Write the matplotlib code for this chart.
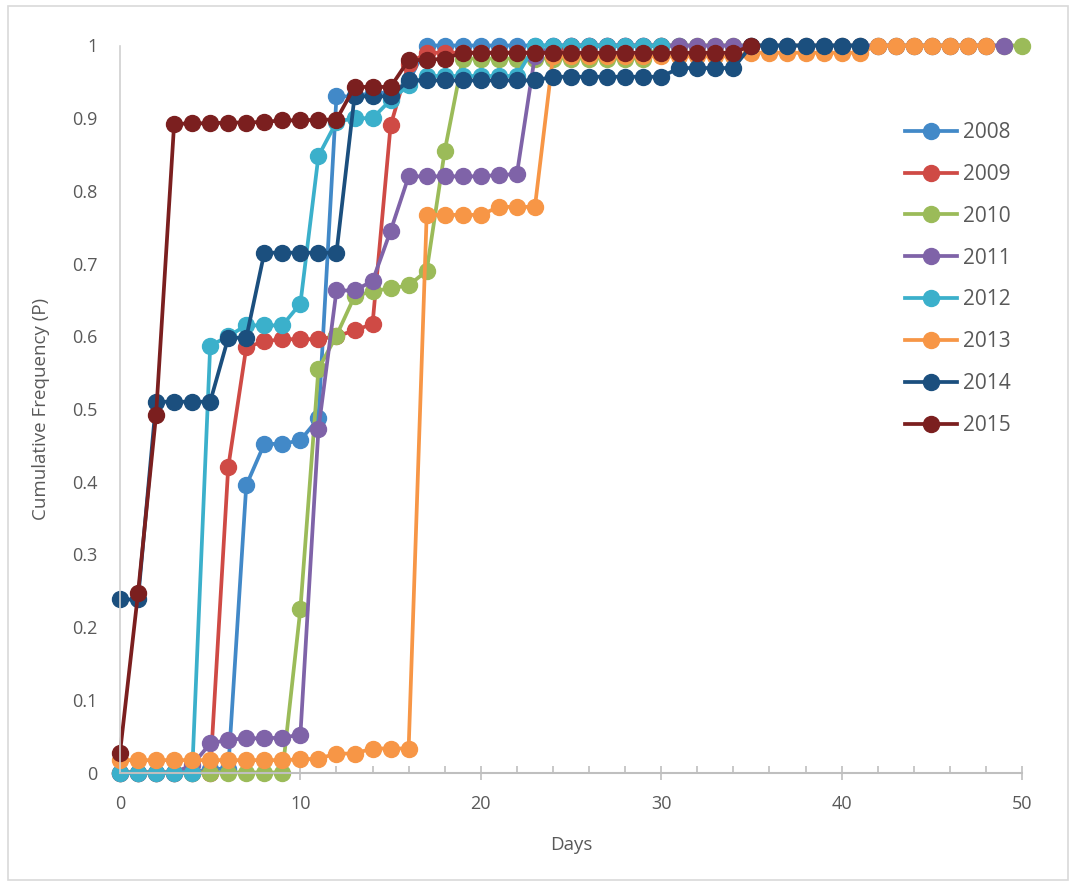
import matplotlib
matplotlib.use("Agg")
import matplotlib.pyplot as plt
from matplotlib.patches import Rectangle
from matplotlib.ticker import MultipleLocator, FuncFormatter

# cumulative frequency per year, one value per day starting at day 0
years = ["2008", "2009", "2010", "2011", "2012", "2013", "2014", "2015"]

p2008 = [0, 0, 0, 0, 0, 0.005, 0.005, 0.395, 0.452, 0.452, 0.457, 0.487,
         0.93, 0.93, 0.935, 0.935, 0.95, 1, 1, 1, 1, 1, 1, 1, 1, 1, 1, 1,
         1, 1, 1, 1]
p2009 = [0, 0, 0, 0, 0, 0, 0.42, 0.585, 0.593, 0.596, 0.596, 0.596, 0.6,
         0.608, 0.617, 0.89, 0.975, 0.99, 0.99, 0.99, 0.99, 0.99, 0.99,
         0.99, 0.99, 1, 1, 1, 1, 1, 1]
p2010 = [0, 0, 0, 0, 0, 0, 0, 0, 0, 0, 0.225, 0.555, 0.601, 0.655, 0.662,
         0.666, 0.67, 0.69, 0.855, 0.982, 0.982, 0.982, 0.982, 0.982, 0.982,
         0.982, 0.982, 0.982, 0.982, 0.982, 1, 1, 1, 1, 1, 1, 1, 1, 1, 1, 1,
         1, 1, 1, 1, 1, 1, 1, 1, 1, 1]
p2011 = [0, 0, 0, 0, 0.01, 0.04, 0.045, 0.047, 0.047, 0.048, 0.052, 0.472,
         0.663, 0.663, 0.676, 0.745, 0.82, 0.82, 0.82, 0.82, 0.82, 0.822,
         0.823, 0.986, 1, 1, 1, 1, 1, 1, 1, 1, 1, 1, 1, 1, 1, 1, 1, 1, 1, 1,
         1, 1, 1, 1, 1, 1, 1, 1]
p2012 = [0, 0, 0, 0, 0, 0.587, 0.6, 0.615, 0.615, 0.615, 0.645, 0.848,
         0.895, 0.9, 0.9, 0.925, 0.945, 0.958, 0.958, 0.958, 0.958, 0.958,
         0.958, 1, 1, 1, 1, 1, 1, 1, 1]
p2013 = [0.017, 0.017, 0.017, 0.017, 0.017, 0.017, 0.017, 0.017, 0.017,
         0.017, 0.018, 0.019, 0.026, 0.026, 0.033, 0.033, 0.033, 0.767,
         0.767, 0.767, 0.767, 0.778, 0.778, 0.778, 0.985, 0.985, 0.985,
         0.985, 0.985, 0.985, 0.985, 0.985, 0.985, 0.985, 0.985, 0.99, 0.99,
         0.99, 0.99, 0.99, 0.99, 0.99, 1, 1, 1, 1, 1, 1, 1]
p2014 = [0.238, 0.238, 0.51, 0.51, 0.51, 0.51, 0.598, 0.598, 0.715, 0.715,
         0.715, 0.715, 0.715, 0.93, 0.93, 0.93, 0.952, 0.952, 0.952, 0.952,
         0.952, 0.952, 0.952, 0.952, 0.957, 0.957, 0.957, 0.957, 0.957,
         0.957, 0.957, 0.969, 0.969, 0.969, 0.969, 1, 1, 1, 1, 1, 1, 1]
p2015 = [0.027, 0.247, 0.492, 0.892, 0.893, 0.893, 0.894, 0.894, 0.895,
         0.897, 0.897, 0.898, 0.898, 0.943, 0.943, 0.943, 0.98, 0.98, 0.982,
         0.99, 0.99, 0.99, 0.99, 0.99, 0.99, 0.99, 0.99, 0.99, 0.99, 0.99,
         0.99, 0.99, 0.99, 0.99, 0.99, 1]

series = [p2008, p2009, p2010, p2011, p2012, p2013, p2014, p2015]
colors = ["#4289C8", "#CF4A45", "#9BBB59", "#7F63A8", "#3BB0CB", "#F79646",
          "#1B4F7E", "#7B1F1F"]

plt.rcParams['font.family'] = ['Open Sans', 'DejaVu Sans']
txt_col = "#595959"
axis_col = "#BFBFBF"

fig = plt.figure(figsize=(10.78, 8.86), dpi=100)
ax = fig.add_axes([120 / 1078, 1 - 772.5 / 886, 902 / 1078, 727 / 886])

for yr, vals, c in zip(years, series, colors):
    days = list(range(len(vals)))
    ax.plot(days, vals, color=c, lw=2.7, marker='o', ms=11.5, label=yr,
            clip_on=False)

ax.set_xlim(0, 50)
ax.set_ylim(0, 1)
ax.xaxis.set_major_locator(MultipleLocator(10))
ax.xaxis.set_minor_locator(MultipleLocator(2))
ax.yaxis.set_major_locator(MultipleLocator(0.1))
ax.yaxis.set_major_formatter(FuncFormatter(lambda v, p: f"{v:g}"))

for s in ["top", "right"]:
    ax.spines[s].set_visible(False)
ax.spines["left"].set_color("#D0D0D0")
ax.spines["bottom"].set_color(axis_col)
ax.spines["left"].set_linewidth(1.2)
ax.spines["bottom"].set_linewidth(1.5)

ax.tick_params(axis='y', length=0, pad=16, labelsize=13, labelcolor=txt_col)
ax.tick_params(axis='x', which='major', direction='inout', length=10,
               color=axis_col, width=1.2, pad=11, labelsize=13,
               labelcolor=txt_col)
ax.tick_params(axis='x', which='minor', direction='in', length=5,
               color=axis_col, width=1.2)

ax.set_xlabel("Days", fontsize=13.5, color=txt_col, labelpad=17)
ax.set_ylabel("Cumulative Frequency (P)", fontsize=13.5, color=txt_col,
              labelpad=16)

ax.legend(loc='upper left', bbox_to_anchor=(905 / 1078, 1 - 122 / 886),
          bbox_transform=fig.transFigure, frameon=False, fontsize=15,
          handlelength=2.5, handletextpad=0.3, labelspacing=1.0,
          labelcolor=txt_col, borderaxespad=0, borderpad=0)

# outer chart border
fig.patches.append(Rectangle((8 / 1078, 6 / 886), 1060 / 1078, 874 / 886,
                             transform=fig.transFigure, fill=False,
                             edgecolor="#D9D9D9", lw=1.2))

fig.savefig("out.png", dpi=100)
